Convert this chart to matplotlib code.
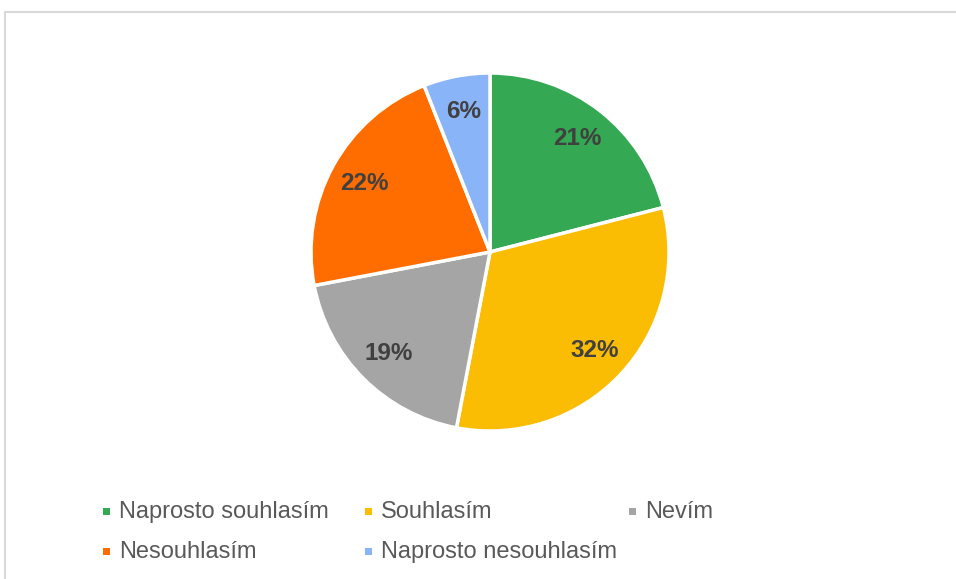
import matplotlib.pyplot as plt
from matplotlib.patches import Rectangle

plt.rcParams['font.family'] = ['Liberation Sans', 'DejaVu Sans']

labels = ['Naprosto souhlasím', 'Souhlasím', 'Nevím', 'Nesouhlasím', 'Naprosto nesouhlasím']
values = [21, 32, 19, 22, 6]
colors = ['#34A853', '#FBBC04', '#A5A5A5', '#FF6D01', '#8AB4F8']

W, H = 956, 579
fig = plt.figure(figsize=(W / 100, H / 100), dpi=100)

# chart frame (runs off the right and bottom edge)
fig.patches.append(Rectangle((5 / W, -0.1), 1, 1.1 - 12 / H, transform=fig.transFigure,
                             fill=False, edgecolor='#D9D9D9', linewidth=1.5))

cx, cy, r = 490, 252, 179
ax = fig.add_axes([(cx - r) / W, (H - cy - r) / H, 2 * r / W, 2 * r / H])
wedges, texts, autotexts = ax.pie(
    values, colors=colors, startangle=90, counterclock=False,
    autopct='%d%%', pctdistance=0.8, radius=1,
    wedgeprops=dict(edgecolor='white', linewidth=2.5),
    textprops=dict(color='#404040', fontsize=17.5, fontweight='bold'))
ax.set_xlim(-1, 1)
ax.set_ylim(-1, 1)
ax.set_aspect('equal')
ax.axis('off')

# legend, 3 columns
col_x = [106, 368, 632]
row_y = [512, 552]
for i, (lab, col) in enumerate(zip(labels, colors)):
    x = col_x[i % 3]
    y = row_y[i // 3]
    fig.patches.append(Rectangle(((x - 3) / W, 1 - (y + 3) / H), 7 / W, 7 / H,
                                 transform=fig.transFigure, facecolor=col, edgecolor='none'))
    fig.text((x + 13) / W, 1 - y / H, lab, fontsize=17, color='#595959',
             ha='left', va='center')

fig.savefig('out.png', dpi=100)
